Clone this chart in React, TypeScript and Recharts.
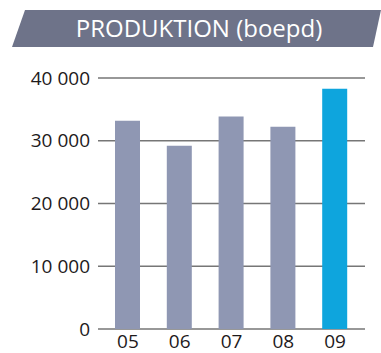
import React from "react";
import { BarChart, Bar, XAxis, YAxis, CartesianGrid, Cell } from "recharts";

const years = ["05", "06", "07", "08", "09"];
const production = [33200, 29200, 33850, 32250, 38300];
const yTicks = [0, 10000, 20000, 30000, 40000];
const title = "PRODUKTION (boepd)";

const chartData = years.map((year, i) => ({ year, value: production[i] }));

const fmt = (v: number) => (v === 0 ? "0" : v.toLocaleString("sv-SE").replace(/\s/g, " "));

const App: React.FC = () => {
  return (
    <div
      style={{
        position: "absolute",
        left: 0,
        top: 0,
        width: 381,
        height: 353,
        background: "#fff",
        fontFamily: "'Open Sans', sans-serif",
      }}
    >
      <svg width={381} height={60} style={{ position: "absolute", left: 0, top: 0 }}>
        <polygon points="25,10 381,10 373,47 12,47" fill="#6E7389" />
        <text
          x={199}
          y={37}
          textAnchor="middle"
          fill="#fff"
          fontSize={24}
          fontFamily="'Open Sans', sans-serif"
        >
          {title}
        </text>
      </svg>

      <div style={{ position: "absolute", left: 0, top: 0 }}>
        <BarChart
          width={381}
          height={353}
          data={chartData}
          margin={{ top: 78, right: 16, left: 0, bottom: 0 }}
        >
          <CartesianGrid vertical={false} stroke="#767676" strokeWidth={1.5} />
          <XAxis
            dataKey="year"
            axisLine={false}
            tickLine={false}
            tickSize={0}
            tickMargin={6}
            height={24}
            padding={{ left: 4, right: 4 }}
            tick={{ fill: "#1e1a1b", fontSize: 19 }}
          />
          <YAxis
            width={98}
            domain={[0, 40000]}
            ticks={yTicks}
            axisLine={false}
            tickLine={false}
            tickFormatter={fmt}
            tick={{ fill: "#1e1a1b", fontSize: 19 }}
          />
          <Bar dataKey="value" barSize={25} isAnimationActive={false}>
            {chartData.map((d, i) => (
              <Cell key={d.year} fill={i === years.length - 1 ? "#0EA5DD" : "#8F97B3"} />
            ))}
          </Bar>
        </BarChart>
      </div>
    </div>
  );
};

export default App;
